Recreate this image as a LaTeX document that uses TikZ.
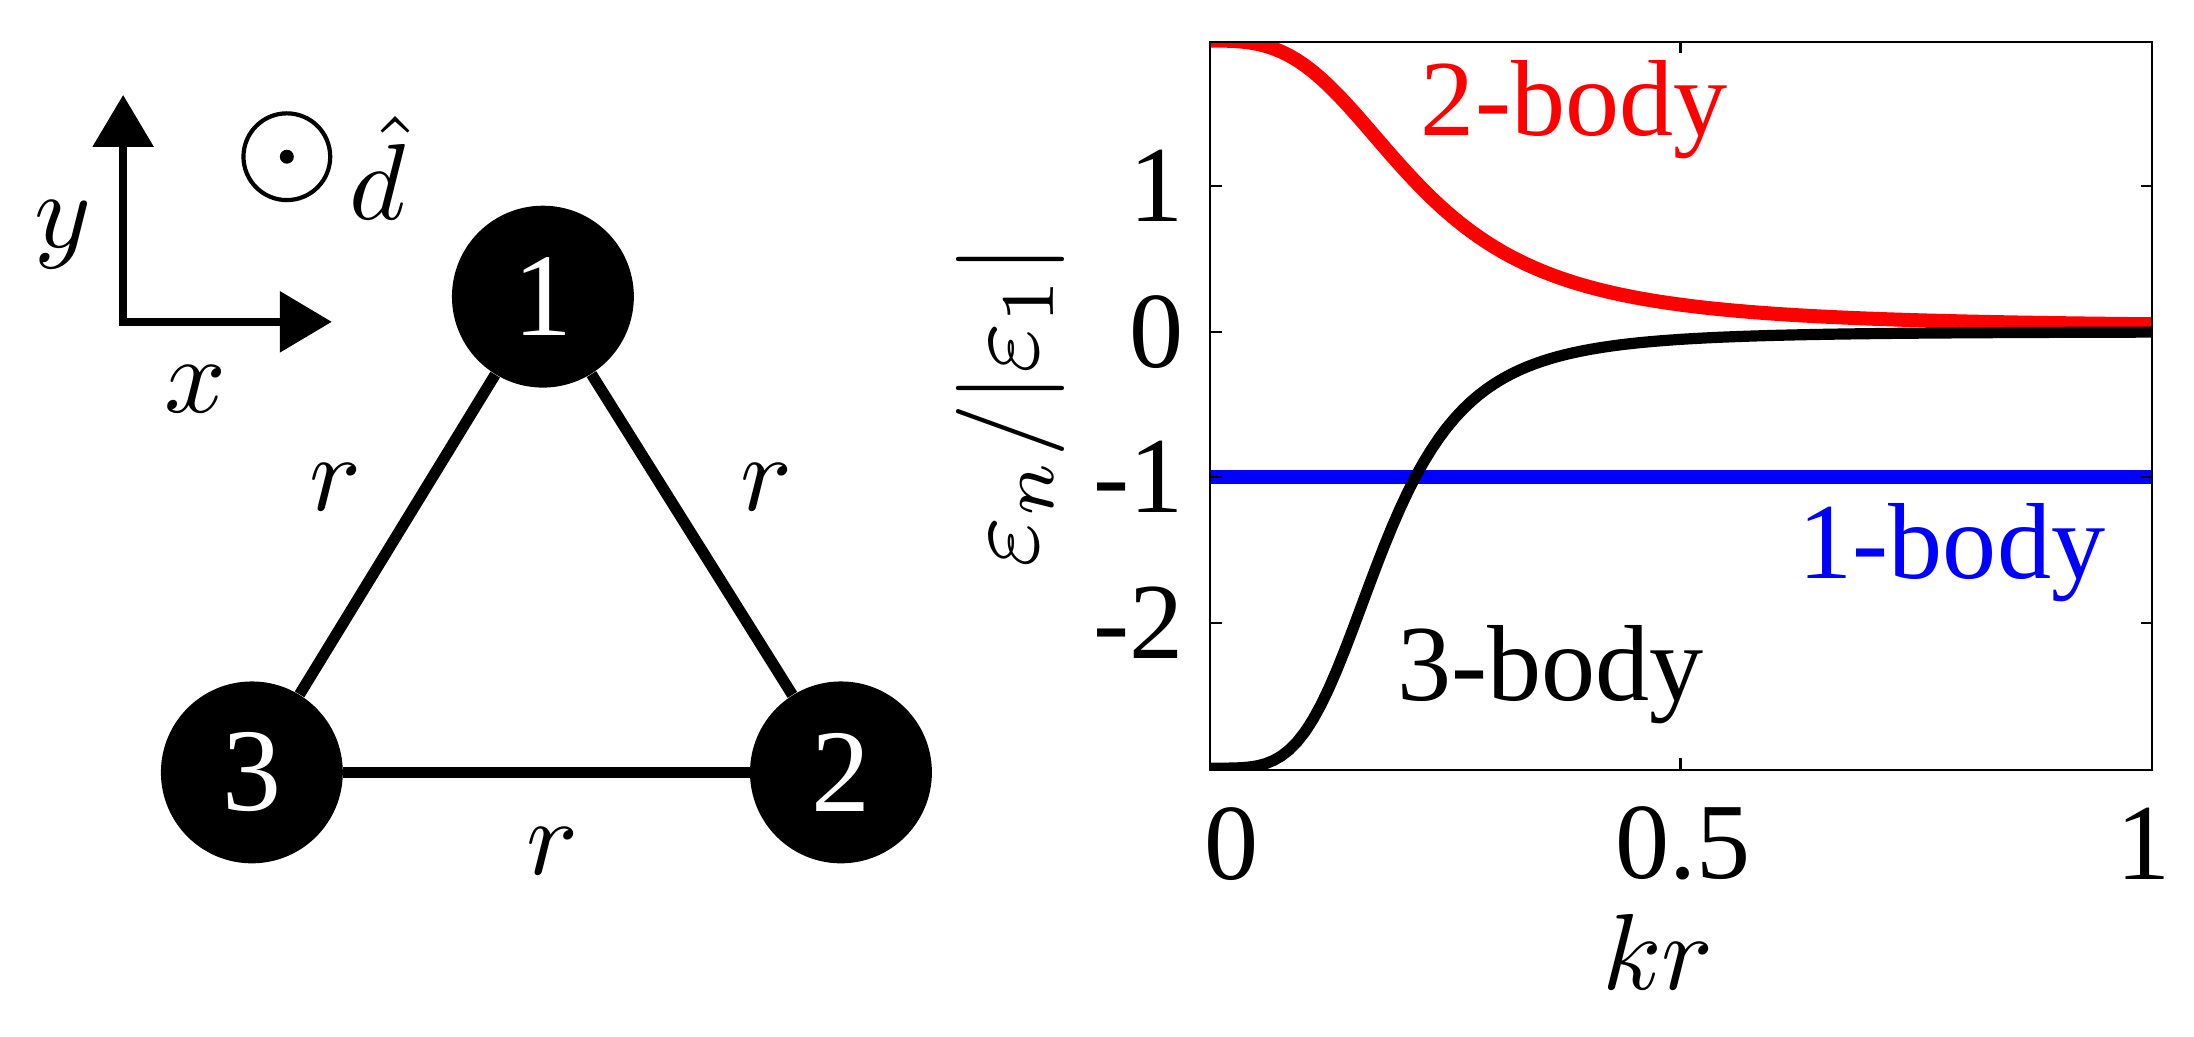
\documentclass[tikz,border=0pt]{standalone}
\usepackage{graphicx}
\usepackage{fontspec}
\setmainfont{Liberation Serif}
\newcommand{\bgm}[1]{\scalebox{4.4}{$#1$}}
\begin{document}
\begin{tikzpicture}[x=0.02cm,y=-0.02cm,
  big/.style={font=\fontsize{44}{50}\selectfont},
  ball/.style={circle,fill=black,minimum size=130*0.02cm,inner sep=0pt,text=white,font=\fontsize{48}{54}\selectfont},
  edge/.style={line width=8*0.02cm},
  tick/.style={line width=1.5*0.02cm}]
\useasboundingbox (0,0) rectangle (1568,741);
% axes
\coordinate (o) at (88,230);
\coordinate (ya) at (88,68);
\coordinate (xa) at (237,230);
\draw[line width=6*0.02cm] (88,105) -- (o) -- (200,230);
\fill (ya) -- (66,105) -- (110,105) -- cycle;
\fill (xa) -- (200,208) -- (200,252) -- cycle;
\node (ylab) at (45,168) {\bgm{y}};
\node (xlab) at (140,278) {\bgm{x}};
\node[circle,draw,line width=3*0.02cm,minimum size=62*0.02cm,inner sep=0pt] (dot) at (205,112) {};
\fill (dot.center) circle (5*0.02cm);
\node (dhat) at (270,120) {\bgm{\hat{d}}};
% triangle
\node[ball] (n1) at (388,212) {1};
\node[ball] (n2) at (601,552) {2};
\node[ball] (n3) at (180,552) {3};
\draw[edge] (n1) -- (n2);
\draw[edge] (n1) -- (n3);
\draw[edge] (n3) -- (n2);
\node (r1) at (240,348) {\bgm{r}};
\node (r2) at (548,348) {\bgm{r}};
\node (r3) at (395,608) {\bgm{r}};
% plot
\begin{scope}
\clip (865,30) rectangle (1538,550);
\draw[red,line width=10*0.02cm,domain=0:1,samples=120,variable=\t]
  plot ({865+673*\t},{237-104*(0.03+1.97/(1+(\t/0.22)^3))});
\draw[blue,line width=10*0.02cm] (865,341) -- (1538,341);
\draw[black,line width=8*0.02cm,domain=0:1,samples=120,variable=\t]
  plot ({865+673*\t},{237+104*(3/(1+(\t/0.183)^4))});
\end{scope}
\draw[tick] (865,30) rectangle (1538,550);
\foreach \yy in {133,237,341,445}{
  \draw[tick] (865,\yy) -- (873,\yy);
  \draw[tick] (1538,\yy) -- (1530,\yy);}
\draw[tick] (1201,550) -- (1201,542);
\draw[tick] (1201,30) -- (1201,38);
\node[big,anchor=east] (t1) at (852,133) {1};
\node[big,anchor=east] (t0) at (852,237) {0};
\node[big,anchor=east] (tm1) at (852,341) {-1};
\node[big,anchor=east] (tm2) at (852,445) {-2};
\node[big] (x0) at (880,603) {0};
\node[big] (x05) at (1203,603) {0.5};
\node[big] (x1) at (1532,603) {1};
\node (kr) at (1185,680) {\bgm{kr}};
\node[rotate=90] (ylabel) at (722,290) {\bgm{\varepsilon_n/|\varepsilon_1|}};
\node[big,red] (b2) at (1125,78) {2-body};
\node[big,blue] (b1) at (1395,395) {1-body};
\node[big] (b3) at (1108,482) {3-body};
\end{tikzpicture}
\end{document}
